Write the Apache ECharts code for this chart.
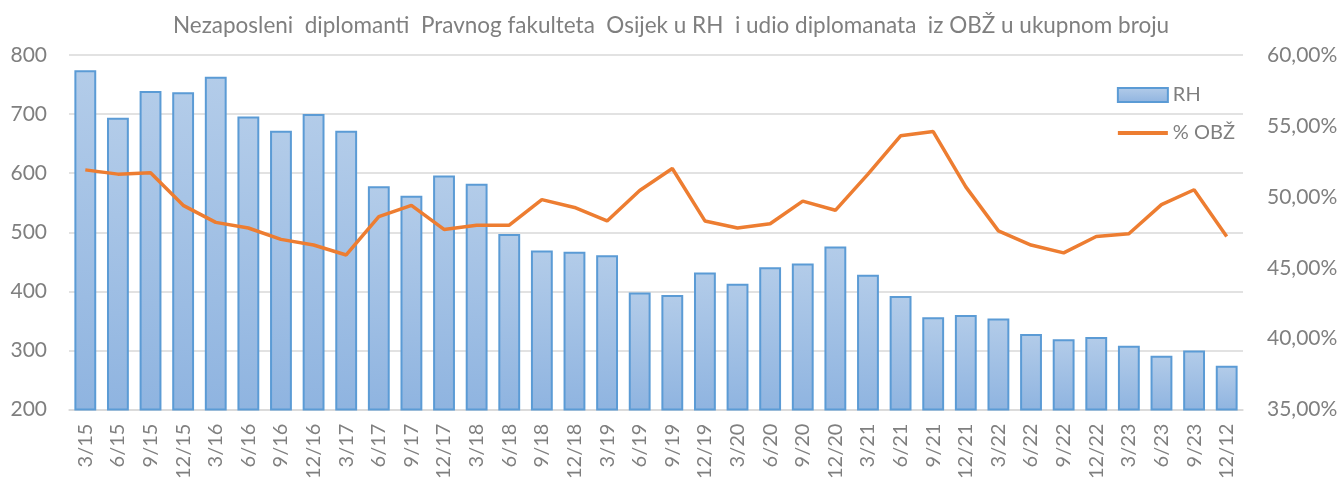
<!DOCTYPE html>
<html>
<head>
<meta charset="utf-8">
<script src="https://cdn.jsdelivr.net/npm/echarts@6/dist/echarts.min.js"></script>
<style>
  html, body { margin: 0; padding: 0; background: #fff; }
  #main { width: 1342px; height: 482px; }
</style>
</head>
<body>
<div id="main"></div>
<script>
// kvartali
var categories = ['3/15','6/15','9/15','12/15','3/16','6/16','9/16','12/16','3/17','6/17','9/17','12/17',
  '3/18','6/18','9/18','12/18','3/19','6/19','9/19','12/19','3/20','6/20','9/20','12/20',
  '3/21','6/21','9/21','12/21','3/22','6/22','9/22','12/22','3/23','6/23','9/23','12/12'];

// broj nezaposlenih u RH
var rhValues = [774, 694, 739, 737, 763, 696, 672, 700, 672, 578, 562, 596,
  582, 497, 469, 467, 461, 398, 394, 432, 413, 441, 447, 476,
  428, 392, 356, 360, 354, 328, 319, 323, 308, 291, 300, 274];

// udio OBZ u %
var obzValues = [51.9, 51.6, 51.7, 49.4, 48.2, 47.8, 47.0, 46.6, 45.9, 48.6, 49.4, 47.7,
  48.0, 48.0, 49.8, 49.25, 48.3, 50.45, 52.0, 48.3, 47.8, 48.1, 49.7, 49.05,
  51.6, 54.3, 54.6, 50.7, 47.6, 46.6, 46.05, 47.2, 47.4, 49.45, 50.5, 47.2];

var textColor = '#7f7f7f';
var fontFam = 'Lato, "Open Sans", sans-serif';

var myChart = echarts.init(document.getElementById('main'));
myChart.setOption({
  animation: false,
  title: {
    text: 'Nezaposleni  diplomanti  Pravnog fakulteta  Osijek u RH  i udio diplomanata  iz OBŽ u ukupnom broju',
    left: 'center',
    top: 9,
    textStyle: { color: textColor, fontWeight: 'normal', fontSize: 22.5, fontFamily: fontFam }
  },
  legend: {
    orient: 'vertical',
    right: 102,
    top: 80,
    itemGap: 18,
    itemWidth: 50,
    itemHeight: 14,
    textStyle: { color: textColor, fontSize: 20, fontFamily: fontFam },
    data: [
      { name: 'RH', icon: 'rect' },
      { name: '% OBŽ', itemStyle: { opacity: 0 }, lineStyle: { width: 4 } }
    ]
  },
  grid: { left: 69, right: 99, top: 55, bottom: 71 },
  xAxis: {
    type: 'category',
    data: categories,
    axisLine: { lineStyle: { color: '#d9d9d9', width: 1.5 } },
    axisTick: { show: false },
    axisLabel: { rotate: 90, color: textColor, fontSize: 20, fontFamily: fontFam, margin: 14 }
  },
  yAxis: [
    {
      type: 'value', min: 200, max: 800, interval: 100,
      axisLine: { show: false }, axisTick: { show: false },
      splitLine: { lineStyle: { color: '#d9d9d9', width: 1.5 } },
      axisLabel: { color: textColor, fontSize: 21, fontFamily: fontFam, margin: 22 }
    },
    {
      type: 'value', min: 35, max: 60, interval: 5,
      axisLine: { show: false }, axisTick: { show: false },
      splitLine: { show: false },
      axisLabel: {
        color: textColor, fontSize: 21, fontFamily: fontFam, margin: 24,
        formatter: function (v) { return v.toFixed(2).replace('.', ',') + '%'; }
      }
    }
  ],
  series: [
    {
      name: 'RH',
      type: 'bar',
      data: rhValues,
      barCategoryGap: '33%',
      itemStyle: {
        color: new echarts.graphic.LinearGradient(0, 0, 0, 1, [
          { offset: 0, color: '#b3cce9' },
          { offset: 1, color: '#8fb4e0' }
        ]),
        borderColor: '#5b9bd5',
        borderWidth: 2
      }
    },
    {
      name: '% OBŽ',
      type: 'line',
      yAxisIndex: 1,
      data: obzValues,
      symbol: 'none',
      lineStyle: { color: '#ed7d31', width: 3.5 },
      itemStyle: { color: '#ed7d31' }
    }
  ]
});
</script>
</body>
</html>
